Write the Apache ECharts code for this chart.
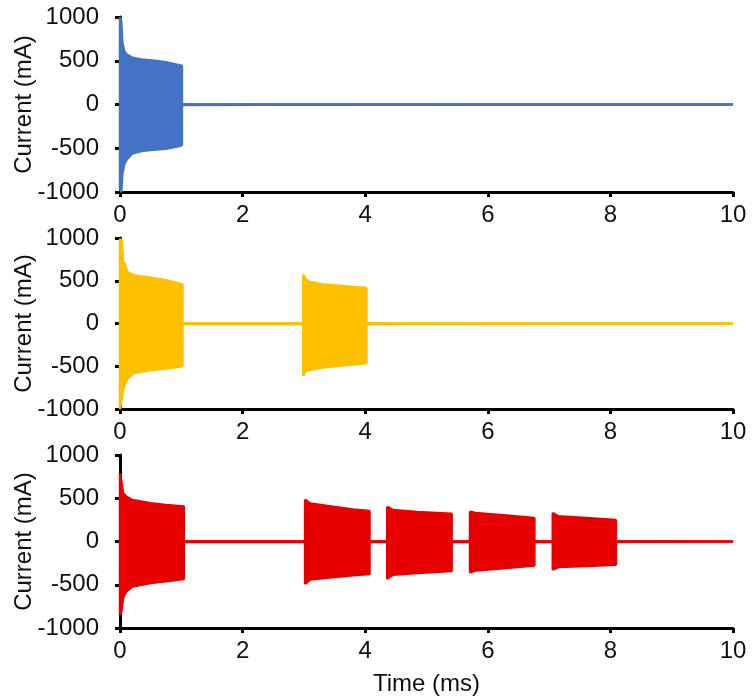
<!DOCTYPE html>
<html>
<head>
<meta charset="utf-8">
<script src="https://cdn.jsdelivr.net/npm/echarts@6/dist/echarts.min.js"></script>
<style>
html,body{margin:0;padding:0;background:#fff;}
#chart{width:752px;height:696px;}
</style>
</head>
<body>
<div id="chart"></div>
<script>
// x range and ticks
const xMin = 0, xMax = 10, xStep = 2;
const yMin = -1000, yMax = 1000, yStep = 500;
const yName = 'Current (mA)';
const xName = 'Time (ms)';

// Envelope of each trace [time (ms), current (mA)]
const blueUpper = [[0,0],[0,1000],[0.02,950],[0.04,700],[0.07,610],[0.11,570],[0.2,535],[0.35,515],[0.5,505],[0.75,482],[0.95,452],[1.01,442],[1.01,0],[10,0]];
const blueLower = [[0,0],[0,-960],[0.02,-1000],[0.04,-780],[0.07,-680],[0.11,-627],[0.2,-560],[0.35,-532],[0.5,-520],[0.75,-505],[0.95,-478],[1.01,-467],[1.01,0],[10,0]];

const yellowUpper = [[0,0],[0,990],[0.03,960],[0.05,720],[0.08,690],[0.12,600],[0.22,565],[0.5,535],[0.75,505],[0.95,470],[1.02,455],[1.02,0],
  [2.99,0],[2.99,572],[3.02,520],[3.1,485],[3.3,460],[3.5,446],[3.8,428],[4.02,414],[4.02,0],[10,0]];
const yellowLower = [[0,0],[0,-1000],[0.03,-1000],[0.05,-780],[0.08,-700],[0.13,-640],[0.22,-580],[0.5,-545],[0.75,-525],[1.02,-500],[1.02,0],
  [2.99,0],[2.99,-610],[3.02,-560],[3.1,-540],[3.3,-515],[3.5,-500],[3.8,-480],[4.02,-461],[4.02,0],[10,0]];

const redUpper = [[0,0],[0,790],[0.02,700],[0.05,560],[0.1,520],[0.2,480],[0.5,443],[0.75,423],[1.04,404],[1.04,0],
  [3.02,0],[3.02,483],[3.1,440],[3.5,400],[3.8,370],[4.07,352],[4.07,0],
  [4.36,0],[4.36,400],[4.45,365],[4.85,340],[5.41,320],[5.41,0],
  [5.71,0],[5.71,345],[5.8,330],[6.3,300],[6.76,272],[6.76,0],
  [7.06,0],[7.06,330],[7.15,292],[7.6,272],[8.09,250],[8.09,0],[10,0]];
const redLower = [[0,0],[0,-845],[0.02,-820],[0.05,-650],[0.1,-577],[0.2,-520],[0.5,-480],[0.75,-460],[1.04,-434],[1.04,0],
  [3.02,0],[3.02,-490],[3.1,-440],[3.5,-410],[3.8,-390],[4.07,-375],[4.07,0],
  [4.36,0],[4.36,-430],[4.45,-385],[4.85,-365],[5.41,-340],[5.41,0],
  [5.71,0],[5.71,-357],[5.8,-335],[6.3,-305],[6.76,-277],[6.76,0],
  [7.06,0],[7.06,-325],[7.15,-295],[7.6,-283],[8.09,-270],[8.09,0],[10,0]];

const panels = [
  {color:'#4472C4', upper:blueUpper, lower:blueLower, top:17, height:175},
  {color:'#FFC000', upper:yellowUpper, lower:yellowLower, top:238, height:171},
  {color:'#E60000', upper:redUpper, lower:redLower, top:455, height:173}
];

const FONT = 'Liberation Sans, Arial, sans-serif';
const FS = 24;
const TXT = '#111';

const grid = [], xAxis = [], yAxis = [], series = [];
panels.forEach((p, i) => {
  grid.push({left:120, right:19, top:p.top, height:p.height, containLabel:false, outerBoundsMode:'none'});
  xAxis.push({
    type:'value', gridIndex:i, min:xMin, max:xMax, interval:xStep,
    axisLine:{onZero:false, lineStyle:{color:'#000', width:3}},
    axisTick:{show:true, length:5, lineStyle:{color:'#000', width:3}},
    axisLabel:{color:TXT, fontSize:FS, fontFamily:FONT, margin:11, formatter:v => String(v)},
    splitLine:{show:false},
    name: i === 2 ? xName : '',
    nameLocation:'middle', nameGap:44, nameMoveOverlap:false,
    nameTextStyle:{color:TXT, fontSize:FS, fontFamily:FONT}
  });
  yAxis.push({
    type:'value', gridIndex:i, min:yMin, max:yMax, interval:yStep,
    axisLine:{show:true, lineStyle:{color:'#000', width:3}},
    axisTick:{show:true, length:5, lineStyle:{color:'#000', width:3}},
    axisLabel:{color:TXT, fontSize:FS, fontFamily:FONT, margin:21, formatter:v => String(v)},
    splitLine:{show:false},
    name: yName, nameLocation:'middle', nameGap:84, nameMoveOverlap:false,
    nameTextStyle:{color:TXT, fontSize:FS, fontFamily:FONT}
  });
  [p.lower, p.upper].forEach((d, k) => {
    series.push({
      type:'line', xAxisIndex:i, yAxisIndex:i, data:d,
      showSymbol:false, symbol:'none', smooth:false,
      lineStyle:{color:p.color, width:2.5},
      itemStyle:{color:p.color},
      areaStyle:{color:p.color, opacity:1, origin: k === 1 ? -20 : 0},
      z:1 + k
    });
  });
});

const chart = echarts.init(document.getElementById('chart'), null, {renderer:'canvas'});
chart.setOption({animation:false, backgroundColor:'#fff', grid, xAxis, yAxis, series});
</script>
</body>
</html>
